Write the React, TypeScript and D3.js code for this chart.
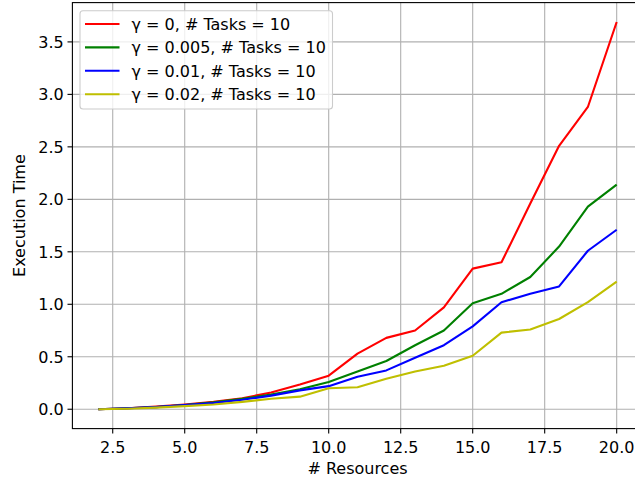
import React, { useEffect, useRef } from 'react';
import * as d3 from 'd3';

const resources = [2, 3, 4, 5, 6, 7, 8, 9, 10, 11, 12, 13, 14, 15, 16, 17, 18, 19, 20];

const gamma0 = [0, 0.01, 0.025, 0.045, 0.07, 0.105, 0.16, 0.235, 0.32, 0.53, 0.68, 0.75, 0.97, 1.34, 1.40, 1.96, 2.51, 2.88, 3.69];
const gamma005 = [0, 0.01, 0.02, 0.04, 0.065, 0.1, 0.14, 0.19, 0.26, 0.36, 0.46, 0.61, 0.75, 1.01, 1.10, 1.26, 1.55, 1.93, 2.14];
const gamma01 = [0, 0.01, 0.02, 0.04, 0.06, 0.09, 0.13, 0.18, 0.22, 0.31, 0.37, 0.49, 0.61, 0.79, 1.02, 1.10, 1.17, 1.51, 1.71];
const gamma02 = [0, 0.005, 0.015, 0.03, 0.045, 0.07, 0.1, 0.12, 0.20, 0.21, 0.29, 0.36, 0.415, 0.51, 0.73, 0.76, 0.86, 1.02, 1.215];

const seriesNames = [
  'γ = 0, # Tasks = 10',
  'γ = 0.005, # Tasks = 10',
  'γ = 0.01, # Tasks = 10',
  'γ = 0.02, # Tasks = 10',
];
const seriesColors = ['#ff0000', '#008000', '#0000ff', '#bfbf00'];

const xTicks = [2.5, 5.0, 7.5, 10.0, 12.5, 15.0, 17.5, 20.0];
const yTicks = [0, 0.5, 1.0, 1.5, 2.0, 2.5, 3.0, 3.5];

const App = () => {
  const svgRef = useRef(null);

  useEffect(() => {
    const svgWidth = 635;
    const svgHeight = 481;
    const font = 'DejaVu Sans, sans-serif';
    const fontSize = 16;

    const svg = d3.select(svgRef.current)
      .attr('width', svgWidth)
      .attr('height', svgHeight)
      .style('background', '#fff');

    svg.selectAll('*').remove();

    const allValues = [gamma0, gamma005, gamma01, gamma02];
    const yMax = d3.max(allValues.flat());
    const yPad = yMax * 0.05;
    const xPad = (20 - 2) * 0.05;

    // Scales (matplotlib style 5% margins)
    const xScale = d3.scaleLinear()
      .domain([2 - xPad, 20 + xPad])
      .range([72.4, 642.6]);

    const yScale = d3.scaleLinear()
      .domain([-yPad, yMax + yPad])
      .range([428.6, 2.6]);

    const [x0, x1] = xScale.range();
    const [y0, y1] = yScale.range();

    // Grid
    svg.append('g')
      .selectAll('line')
      .data(xTicks)
      .join('line')
      .attr('x1', d => xScale(d))
      .attr('x2', d => xScale(d))
      .attr('y1', y0)
      .attr('y2', y1)
      .attr('stroke', '#b0b0b0')
      .attr('stroke-width', 1.1);

    svg.append('g')
      .selectAll('line')
      .data(yTicks)
      .join('line')
      .attr('x1', x0)
      .attr('x2', x1)
      .attr('y1', d => yScale(d))
      .attr('y2', d => yScale(d))
      .attr('stroke', '#b0b0b0')
      .attr('stroke-width', 1.1);

    // Lines
    const line = d3.line()
      .x((d, i) => xScale(resources[i]))
      .y(d => yScale(d));

    allValues.forEach((vals, i) => {
      svg.append('path')
        .datum(vals)
        .attr('fill', 'none')
        .attr('stroke', seriesColors[i])
        .attr('stroke-width', 2.1)
        .attr('stroke-linejoin', 'round')
        .attr('d', line);
    });

    // Spines
    svg.append('rect')
      .attr('x', x0)
      .attr('y', y1)
      .attr('width', x1 - x0)
      .attr('height', y0 - y1)
      .attr('fill', 'none')
      .attr('stroke', '#000')
      .attr('stroke-width', 1.1);

    // X ticks
    const xAxis = svg.append('g');
    xTicks.forEach(t => {
      xAxis.append('line')
        .attr('x1', xScale(t)).attr('x2', xScale(t))
        .attr('y1', y0).attr('y2', y0 + 4.9)
        .attr('stroke', '#000').attr('stroke-width', 1.1);
      xAxis.append('text')
        .attr('x', xScale(t))
        .attr('y', 452.5)
        .attr('text-anchor', 'middle')
        .attr('font-family', font)
        .attr('font-size', fontSize)
        .text(t.toFixed(1));
    });

    // Y ticks
    const yAxis = svg.append('g');
    yTicks.forEach(t => {
      yAxis.append('line')
        .attr('x1', x0 - 4.9).attr('x2', x0)
        .attr('y1', yScale(t)).attr('y2', yScale(t))
        .attr('stroke', '#000').attr('stroke-width', 1.1);
      yAxis.append('text')
        .attr('x', x0 - 8.6)
        .attr('y', yScale(t) + 5.8)
        .attr('text-anchor', 'end')
        .attr('font-family', font)
        .attr('font-size', fontSize)
        .text(t.toFixed(1));
    });

    // Axis labels
    svg.append('text')
      .attr('x', (x0 + x1) / 2)
      .attr('y', 474)
      .attr('text-anchor', 'middle')
      .attr('font-family', font)
      .attr('font-size', fontSize)
      .text('# Resources');

    svg.append('text')
      .attr('transform', `translate(25, ${(y0 + y1) / 2}) rotate(-90)`)
      .attr('text-anchor', 'middle')
      .attr('font-family', font)
      .attr('font-size', fontSize)
      .text('Execution Time');

    // Legend
    const legend = svg.append('g');
    legend.append('rect')
      .attr('x', 80)
      .attr('y', 10.7)
      .attr('width', 252.5)
      .attr('height', 98.3)
      .attr('rx', 3)
      .attr('fill', '#fff')
      .attr('fill-opacity', 0.8)
      .attr('stroke', '#cccccc')
      .attr('stroke-width', 1.1);

    seriesNames.forEach((name, i) => {
      const cy = 24 + i * 23.4;
      legend.append('line')
        .attr('x1', 85).attr('x2', 119.5)
        .attr('y1', cy).attr('y2', cy)
        .attr('stroke', seriesColors[i])
        .attr('stroke-width', 2.1);
      legend.append('text')
        .attr('x', 131.5)
        .attr('y', cy + 5.8)
        .attr('font-family', font)
        .attr('font-size', fontSize)
        .text(name);
    });
  }, []);

  return (
    <svg ref={svgRef} style={{ position: 'absolute', left: 0, top: 0 }}></svg>
  );
};

export default App;
